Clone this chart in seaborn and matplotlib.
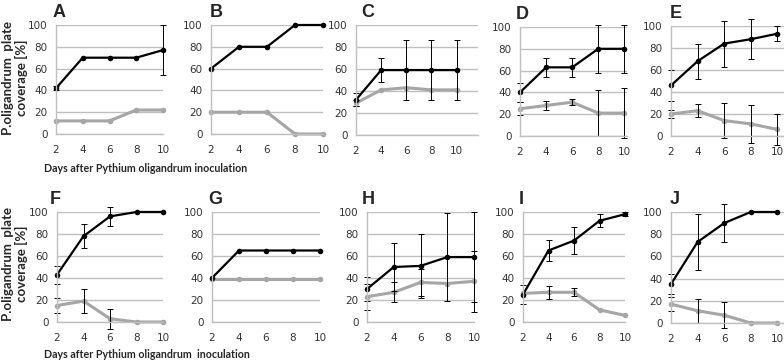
import numpy as np
import pandas as pd
import matplotlib
matplotlib.use("Agg")
import matplotlib.pyplot as plt
import seaborn as sns

days = [2, 4, 6, 8, 10]
panels = ["A", "B", "C", "D", "E", "F", "G", "H", "I", "J"]

# P. oligandrum coverage, dark series (mean / sd)
dark_mean = {
    "A": [42, 70, 70, 70, 77], "B": [60, 80, 80, 100, 100],
    "C": [32, 59, 59, 59, 59], "D": [40, 63, 63, 80, 80],
    "E": [46, 68, 84, 88, 93], "F": [43, 78, 96, 100, 100],
    "G": [40, 65, 65, 65, 65], "H": [30, 50, 51, 59, 59],
    "I": [25, 65, 74, 92, 98], "J": [35, 73, 90, 100, 100],
}
dark_sd = {
    "A": [2, 0, 0, 0, 23], "B": [0, 0, 0, 0, 0],
    "C": [6, 11, 27, 27, 27], "D": [9, 9, 9, 22, 22],
    "E": [14, 16, 21, 18, 7], "F": [8, 11, 9, 0, 0],
    "G": [0, 0, 0, 0, 0], "H": [11, 22, 29, 40, 41],
    "I": [9, 9.5, 12, 6, 2], "J": [9, 25, 17, 0, 0],
}
# light series (mean / sd)
light_mean = {
    "A": [12, 12, 12, 22, 22], "B": [20, 20, 20, 0, 0],
    "C": [29, 41, 43, 41, 41], "D": [25, 28, 31, 21, 21],
    "E": [20, 23, 14, 11, 6], "F": [15, 19, 3, 0, 0],
    "G": [39, 39, 39, 39, 39], "H": [23, 27, 36, 35, 37],
    "I": [26, 27, 27, 11, 6], "J": [17, 11, 7, 0, 0],
}
light_sd = {
    "A": [0, 0, 0, 0, 0], "B": [0, 0, 0, 0, 0],
    "C": [3, 0, 0, 0, 0], "D": [6, 4, 3, 21, 23],
    "E": [4, 6, 16, 17, 14], "F": [7, 11, 9, 0, 0],
    "G": [0, 0, 0, 0, 0], "H": [12, 9, 12, 0, 28],
    "I": [0, 6, 3.5, 0, 0], "J": [6, 11, 11.5, 0, 0],
}

# axes boxes in pixels: left, right, top, bottom, x max
boxes = {
    "A": (56, 163, 25, 134, 10), "B": (211, 323, 25, 134, 10),
    "C": (356, 478, 25, 135, 11.7), "D": (520, 627, 27, 136, 10.2),
    "E": (671, 784, 26, 136, 10.5),
    "F": (57, 163, 212, 322, 10), "G": (212, 320, 212, 322, 10),
    "H": (367, 474, 212, 322, 10), "I": (523, 625, 212, 322, 10),
    "J": (671, 784, 212, 323, 10.5),
}
letter_x = {"A": 53, "B": 210, "C": 361, "D": 516, "E": 670,
            "F": 50, "G": 208, "H": 362, "I": 519, "J": 670}

W, H = 784, 361
sns.set_style("white")
plt.rcParams["font.family"] = ["DejaVu Sans"]

fig = plt.figure(figsize=(W / 100, H / 100), dpi=100)
grid_c = "#bfbfbf"
light_c = "#a6a6a6"

for p in panels:
    l, r, t, b, xmax = boxes[p]
    ax = fig.add_axes([l / W, 1 - b / H, (r - l) / W, (b - t) / H])
    df = pd.DataFrame({"day": days, "dark": dark_mean[p], "light": light_mean[p]})
    sns.lineplot(data=df, x="day", y="light", color=light_c, lw=2.2, marker="o",
                 markersize=4, markeredgewidth=0, ax=ax, clip_on=False)
    sns.lineplot(data=df, x="day", y="dark", color="black", lw=1.6, marker="o",
                 markersize=4, markeredgewidth=0, ax=ax, clip_on=False)
    for mean, sd in ((light_mean[p], light_sd[p]), (dark_mean[p], dark_sd[p])):
        x = [d for d, s in zip(days, sd) if s > 0]
        y = [m for m, s in zip(mean, sd) if s > 0]
        e = [s for s in sd if s > 0]
        if x:
            ax.errorbar(x, y, yerr=e, fmt="none", ecolor="black", elinewidth=0.7,
                        capsize=2, capthick=0.7, clip_on=False)
    ax.set_xlim(2, xmax)
    ax.set_ylim(0, 100)
    ax.set_xticks(days)
    ax.set_yticks(range(0, 101, 20))
    ax.set_xlabel("")
    ax.set_ylabel("")
    ax.yaxis.grid(True, color=grid_c, lw=1)
    ax.set_axisbelow(True)
    for s in ("top", "right"):
        ax.spines[s].set_visible(False)
    for s in ("left", "bottom"):
        ax.spines[s].set_color(grid_c)
        ax.spines[s].set_linewidth(1)
    ax.tick_params(length=3, width=0.8, color=grid_c, labelsize=7.5,
                   labelcolor="#333333", pad=3)
    ax.tick_params(axis="x", pad=5)
    fig.text(letter_x[p] / W, 1 - (t - 4) / H, p, fontsize=13, fontweight="bold",
             family="Liberation Sans", va="bottom", ha="left")

for yc, xl in ((78, "Days after Pythium oligandrum inoculation"),
               (264, "Days after Pythium oligandrum  inoculation")):
    fig.text(15 / W, 1 - yc / H, "P.oligandrum  plate\ncoverage [%]", rotation=90,
             ha="center", va="center", fontsize=9.5, fontweight="bold",
             family="Lato", linespacing=1.05)
    fig.text(44 / W, 1 - (yc + 91) / H, xl, ha="left", va="center", fontsize=7.7,
             fontweight="bold", family="Lato")

fig.savefig("out.png", dpi=100)
